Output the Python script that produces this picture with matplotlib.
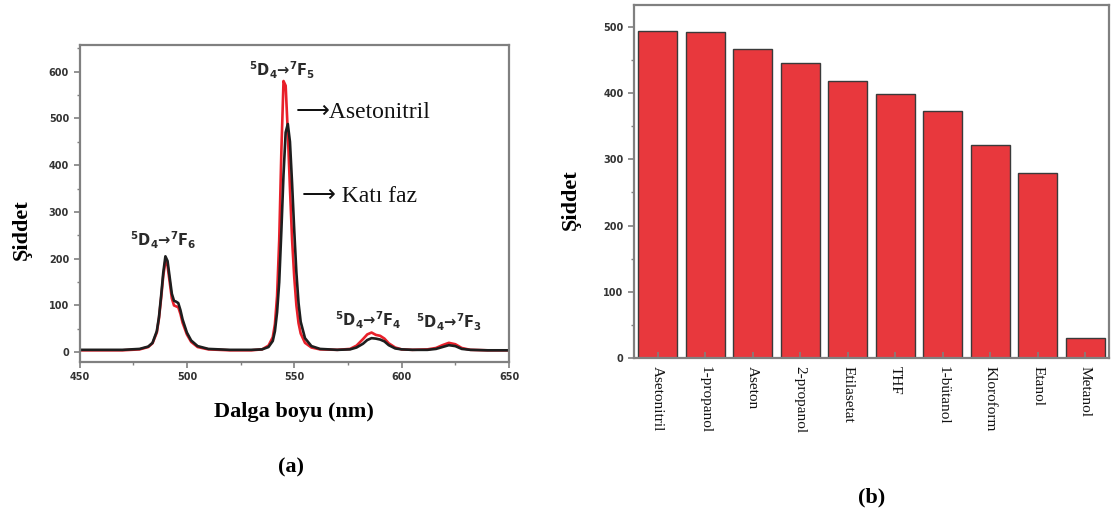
#!/usr/bin/env python3
"""Emission spectra (a) and solvent-dependent intensity bars (b)."""

import matplotlib
matplotlib.use("Agg")
import matplotlib.pyplot as plt
from matplotlib.ticker import MultipleLocator

# (a) spectrum samples
WAVELENGTH = [
    450, 460, 470, 478, 482, 484, 486, 487, 488, 489, 490, 491, 492, 493,
    494, 495, 496, 497, 498, 500, 502, 505, 510, 520, 530, 535, 538, 540,
    541, 542, 543, 544, 545, 546, 547, 548, 549, 550, 551, 552, 553, 555,
    558, 562, 570, 576, 579, 582, 584, 586, 588, 590, 592, 594, 597, 600,
    605, 612, 616, 619, 622, 625, 628, 632, 640, 650,
]
KATI_FAZ = [
    5, 5, 5, 7, 12, 20, 45, 75, 120, 170, 205, 195, 160, 125,
    110, 108, 105, 90, 70, 42, 25, 13, 7, 5, 5, 6, 11, 24,
    45, 85, 150, 260, 380, 470, 488, 450, 360, 260, 170, 105, 65, 30,
    13, 7, 5, 6, 10, 18, 26, 30, 29, 27, 23, 15, 8, 6,
    5, 5, 7, 11, 15, 13, 7, 5, 4, 4,
]
ASETONITRIL = [
    4, 4, 4, 6, 11, 19, 42, 72, 115, 163, 195, 185, 150, 115,
    100, 98, 96, 82, 63, 38, 22, 11, 6, 4, 4, 6, 14, 32,
    60, 120, 240, 430, 580, 570, 470, 350, 240, 160, 100, 62, 40, 20,
    10, 6, 5, 7, 14, 28, 38, 42, 37, 35, 29, 19, 10, 6,
    5, 6, 9, 15, 20, 17, 9, 5, 4, 4,
]

# (b) peak intensity per solvent
SOLVENTS = [
    "Asetonitril", "1-propanol", "Aseton", "2-propanol", "Etilasetat",
    "THF", "1-bütanol", "Kloroform", "Etanol", "Metanol",
]
INTENSITY = [493, 492, 466, 445, 419, 399, 373, 321, 280, 30]

PEAKS = [
    ("$^5$D$_4$\u2192$^7$F$_6$", 130, 240),
    ("$^5$D$_4$\u2192$^7$F$_5$", 249, 70),
    ("$^5$D$_4$\u2192$^7$F$_4$", 335, 320),
    ("$^5$D$_4$\u2192$^7$F$_3$", 416, 322),
]

W, H = 1113, 520
SERIF = "Liberation Serif"
FRAME = "#808080"
TEXT = "#2a2a2a"


def px(x, y):
  return x / W, 1 - y / H


def style_axis(axis):
  for spine in axis.spines.values():
    spine.set_color(FRAME)
    spine.set_linewidth(1.6)
  axis.tick_params(which="both", colors=FRAME, labelcolor="#333333",
                   labelsize=7)
  for label in axis.get_xticklabels() + axis.get_yticklabels():
    label.set_fontweight("bold")


def main() -> None:
  plt.rcParams.update({"font.family": "DejaVu Sans",
                       "mathtext.default": "regular"})
  fig = plt.figure(figsize=(W / 100, H / 100), dpi=100)

  # (a) spectra
  ax = fig.add_axes([79.5 / W, 1 - 362 / H, 429.5 / W, 317 / H])
  ax.plot(WAVELENGTH, ASETONITRIL, color="#e8202a", linewidth=1.9)
  ax.plot(WAVELENGTH, KATI_FAZ, color="#1e1e1e", linewidth=1.9)
  ax.set_xlim(450, 650)
  ax.set_ylim(-21, 657)
  ax.xaxis.set_major_locator(MultipleLocator(50))
  ax.xaxis.set_minor_locator(MultipleLocator(25))
  ax.yaxis.set_major_locator(MultipleLocator(100))
  ax.yaxis.set_minor_locator(MultipleLocator(50))
  ax.tick_params(which="major", direction="out", length=4, width=1.2)
  ax.tick_params(which="minor", direction="out", length=2.5, width=1)
  style_axis(ax)

  for text, x, y in PEAKS:
    fig.text(*px(x, y), text, fontsize=10.5, fontweight="bold", color=TEXT,
             ha="left", va="center")
  fig.text(*px(296, 112), "\u27f6Asetonitril", family=[SERIF, "DejaVu Sans"],
           fontsize=17, color="#111111", va="center")
  fig.text(*px(302, 196), "\u27f6 Katı faz", family=[SERIF, "DejaVu Sans"],
           fontsize=17, color="#111111", va="center")

  fig.text(*px(22, 230), "Şiddet", family=SERIF, fontsize=16,
           fontweight="bold", rotation=90, ha="center", va="center")
  fig.text(*px(294, 412), "Dalga boyu (nm)", family=SERIF, fontsize=16,
           fontweight="bold", ha="center", va="center")
  fig.text(*px(291, 467), "(a)", family=SERIF, fontsize=16,
           fontweight="bold", ha="center", va="center")

  # (b) bars
  bx = fig.add_axes([634 / W, 1 - 358 / H, 475 / W, 353 / H])
  pos = range(len(SOLVENTS))
  bx.bar(pos, INTENSITY, width=0.82, color="#e8383d",
         edgecolor="#3a3a3a", linewidth=1.0)
  bx.set_xlim(-0.5, len(SOLVENTS) - 0.5)
  bx.set_ylim(0, 533)
  bx.yaxis.set_major_locator(MultipleLocator(100))
  bx.yaxis.set_minor_locator(MultipleLocator(50))
  bx.tick_params(axis="y", which="major", direction="out", length=4,
                 width=1.2)
  bx.tick_params(axis="y", which="minor", direction="out", length=2.5,
                 width=1)
  bx.tick_params(axis="x", direction="in", length=4, width=1.2, pad=6,
                 colors="#444444")
  bx.set_xticks(list(pos), SOLVENTS)
  style_axis(bx)
  for label in bx.get_xticklabels():
    label.set_family(SERIF)
    label.set_fontsize(11)
    label.set_fontweight("normal")
    label.set_rotation(-90)
    label.set_color("#111111")
    label.set_va("top")
    label.set_ha("center")

  fig.text(*px(571, 200), "Şiddet", family=SERIF, fontsize=16,
           fontweight="bold", rotation=90, ha="center", va="center")
  fig.text(*px(872, 497), "(b)", family=SERIF, fontsize=16,
           fontweight="bold", ha="center", va="center")

  fig.savefig("out.png", dpi=100)


if __name__ == "__main__":
  main()
